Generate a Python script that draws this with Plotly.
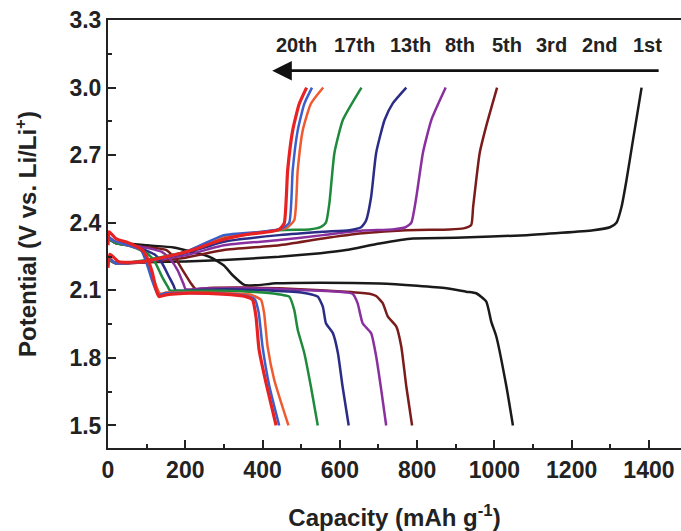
import plotly.graph_objects as go

# ---- data (capacity in mAh/g, potential in V) ----
cycles = ["1st", "2nd", "3rd", "5th", "8th", "13th", "17th", "20th"]
colors = ["#1a1a1a", "#7b1c1c", "#8a2f9e", "#2a2c86", "#1f8a3c", "#f05a30", "#3a5fcd", "#e82222"]

# discharge curves
dis_1st_cap = [0, 20, 100, 170, 262, 300, 322, 353, 380, 435, 550, 703, 800, 876, 927, 953, 979, 992, 1005, 1031, 1048]
dis_1st_v   = [2.33, 2.315, 2.30, 2.29, 2.249, 2.21, 2.168, 2.124, 2.122, 2.131, 2.134, 2.13, 2.12, 2.109, 2.094, 2.087, 2.05, 1.96, 1.895, 1.674, 1.5]
dis_2nd_cap = [0, 20, 80, 150, 175, 193, 215, 227, 260, 350, 443, 550, 616, 677, 694, 711, 724, 746, 759, 772, 787]
dis_2nd_v   = [2.33, 2.31, 2.295, 2.279, 2.24, 2.19, 2.13, 2.105, 2.11, 2.112, 2.109, 2.10, 2.094, 2.085, 2.075, 2.043, 1.984, 1.94, 1.851, 1.674, 1.5]
dis_3rd_cap = [0, 20, 80, 140, 160, 180, 195, 201, 240, 350, 450, 550, 620, 633, 646, 659, 681, 694, 707, 720]
dis_3rd_v   = [2.33, 2.31, 2.295, 2.27, 2.24, 2.19, 2.13, 2.105, 2.108, 2.11, 2.105, 2.098, 2.09, 2.085, 2.043, 1.954, 1.91, 1.807, 1.66, 1.5]
dis_5th_cap = [0, 20, 70, 120, 140, 158, 170, 175, 220, 300, 400, 500, 530, 543, 556, 564, 582, 595, 607, 623]
dis_5th_v   = [2.33, 2.31, 2.295, 2.26, 2.22, 2.16, 2.12, 2.10, 2.10, 2.105, 2.10, 2.09, 2.08, 2.072, 2.028, 1.954, 1.91, 1.822, 1.674, 1.5]
dis_8th_cap = [0, 20, 60, 100, 120, 140, 155, 160, 200, 300, 400, 450, 469, 482, 491, 508, 525, 543]
dis_8th_v   = [2.33, 2.31, 2.295, 2.265, 2.23, 2.16, 2.115, 2.10, 2.098, 2.098, 2.09, 2.08, 2.072, 2.013, 1.925, 1.822, 1.674, 1.5]
dis_13th_cap = [0, 15, 50, 85, 105, 120, 135, 150, 200, 300, 370, 396, 404, 413, 430, 467]
dis_13th_v   = [2.34, 2.32, 2.30, 2.28, 2.22, 2.14, 2.085, 2.09, 2.09, 2.088, 2.08, 2.058, 1.999, 1.851, 1.704, 1.5]
dis_17th_cap = [0, 15, 50, 85, 100, 115, 130, 150, 200, 300, 360, 380, 390, 400, 417, 443]
dis_17th_v   = [2.34, 2.32, 2.30, 2.28, 2.22, 2.14, 2.08, 2.088, 2.088, 2.085, 2.075, 2.06, 2.0, 1.85, 1.68, 1.5]
dis_20th_cap = [0, 3, 20, 54, 89, 100, 115, 125, 132, 150, 175, 210, 296, 357, 374, 383, 391, 409, 435]
dis_20th_v   = [2.30, 2.36, 2.33, 2.31, 2.279, 2.249, 2.177, 2.10, 2.072, 2.08, 2.084, 2.087, 2.083, 2.072, 2.058, 1.984, 1.836, 1.689, 1.5]

# charge curves
chg_1st_cap = [0, 15, 100, 200, 300, 443, 550, 616, 703, 789, 900, 1083, 1256, 1299, 1316, 1329, 1342, 1359, 1381]
chg_1st_v   = [2.25, 2.225, 2.225, 2.228, 2.235, 2.249, 2.265, 2.279, 2.308, 2.33, 2.333, 2.345, 2.367, 2.38, 2.40, 2.47, 2.59, 2.77, 3.0]
chg_2nd_cap = [0, 20, 100, 200, 300, 443, 556, 659, 772, 884, 920, 940, 945, 962, 979, 1007]
chg_2nd_v   = [2.24, 2.22, 2.225, 2.245, 2.279, 2.30, 2.33, 2.353, 2.367, 2.37, 2.375, 2.39, 2.47, 2.71, 2.83, 3.0]
chg_3rd_cap = [0, 20, 100, 200, 300, 443, 556, 659, 737, 770, 785, 798, 815, 837, 874]
chg_3rd_v   = [2.24, 2.22, 2.228, 2.255, 2.30, 2.323, 2.345, 2.365, 2.37, 2.38, 2.40, 2.514, 2.71, 2.857, 3.0]
chg_5th_cap = [0, 20, 100, 200, 300, 443, 556, 625, 655, 668, 681, 694, 716, 737, 772]
chg_5th_v   = [2.24, 2.22, 2.23, 2.265, 2.316, 2.345, 2.36, 2.367, 2.38, 2.41, 2.514, 2.71, 2.857, 2.93, 3.0]
chg_8th_cap = [0, 20, 100, 200, 300, 443, 521, 550, 564, 573, 586, 608, 656]
chg_8th_v   = [2.24, 2.22, 2.235, 2.27, 2.33, 2.367, 2.37, 2.38, 2.40, 2.487, 2.71, 2.857, 3.0]
chg_13th_cap = [0, 20, 100, 200, 300, 400, 460, 482, 491, 504, 525, 557]
chg_13th_v   = [2.25, 2.22, 2.23, 2.27, 2.34, 2.36, 2.375, 2.411, 2.633, 2.81, 2.928, 3.0]
chg_17th_cap = [0, 20, 100, 200, 300, 400, 450, 469, 478, 491, 508, 528]
chg_17th_v   = [2.25, 2.22, 2.23, 2.27, 2.345, 2.36, 2.375, 2.40, 2.633, 2.81, 2.928, 3.0]
chg_20th_cap = [0, 5, 28, 89, 150, 219, 279, 348, 417, 443, 456, 465, 478, 495, 514]
chg_20th_v   = [2.20, 2.26, 2.227, 2.227, 2.249, 2.279, 2.316, 2.345, 2.36, 2.37, 2.397, 2.633, 2.81, 2.928, 3.0]

discharge = {
    "1st": (dis_1st_cap, dis_1st_v), "2nd": (dis_2nd_cap, dis_2nd_v), "3rd": (dis_3rd_cap, dis_3rd_v),
    "5th": (dis_5th_cap, dis_5th_v), "8th": (dis_8th_cap, dis_8th_v), "13th": (dis_13th_cap, dis_13th_v),
    "17th": (dis_17th_cap, dis_17th_v), "20th": (dis_20th_cap, dis_20th_v),
}
charge = {
    "1st": (chg_1st_cap, chg_1st_v), "2nd": (chg_2nd_cap, chg_2nd_v), "3rd": (chg_3rd_cap, chg_3rd_v),
    "5th": (chg_5th_cap, chg_5th_v), "8th": (chg_8th_cap, chg_8th_v), "13th": (chg_13th_cap, chg_13th_v),
    "17th": (chg_17th_cap, chg_17th_v), "20th": (chg_20th_cap, chg_20th_v),
}

# label positions (cycle labels above arrow)
label_x = [1395, 1273, 1149, 1032, 910, 783, 638, 487]
label_y = 3.19
arrow_tail_x, arrow_head_x, arrow_y = 1429, 425, 3.075

FONT = "Liberation Sans, Arial, sans-serif"

fig = go.Figure()
for name, col in zip(cycles, colors):
    w = 3.2 if name == "20th" else 2.5
    for part in (discharge, charge):
        x, y = part[name]
        fig.add_trace(go.Scatter(x=x, y=y, mode="lines", name=name, showlegend=False,
                                 line=dict(color=col, width=w, shape="spline", smoothing=0.5)))

for name, lx in zip(cycles, label_x):
    fig.add_annotation(x=lx, y=label_y, text=name, showarrow=False, xref="x", yref="y",
                       font=dict(family=FONT, size=20, color="#222", weight="bold"))

fig.add_annotation(x=arrow_head_x, y=arrow_y, ax=arrow_tail_x, ay=arrow_y, xref="x", yref="y",
                   axref="x", ayref="y", text="", showarrow=True, arrowhead=2, arrowsize=1.4,
                   arrowwidth=2.8, arrowcolor="#111")

axis_common = dict(showline=True, linecolor="#222", linewidth=2, ticks="inside", ticklen=8,
                   tickwidth=2, tickcolor="#222", showgrid=False, zeroline=False,
                   tickfont=dict(family=FONT, size=23, color="#222", weight="bold"))

fig.update_xaxes(range=[0, 1483], tick0=0, dtick=200, mirror=True,
                 minor=dict(ticks="inside", ticklen=4, tickwidth=2, tickcolor="#222", dtick=100),
                 title=dict(text="Capacity (mAh g<sup>-1</sup>)", standoff=28,
                            font=dict(family=FONT, size=24, color="#222", weight="bold")),
                 **axis_common)
fig.update_yaxes(range=[1.4, 3.3], tick0=1.5, dtick=0.3, tickformat=".1f",
                 minor=dict(ticks="inside", ticklen=4, tickwidth=2, tickcolor="#222", dtick=0.15, tick0=1.5),
                 title=dict(text="Potential (V vs. Li/Li<sup>+</sup>)", standoff=26,
                            font=dict(family=FONT, size=24, color="#222", weight="bold")),
                 **axis_common)

fig.update_layout(width=681, height=531, margin=dict(l=108, r=0, t=20, b=83),
                  paper_bgcolor="white", plot_bgcolor="white", showlegend=False)

fig.write_html("out.html")
